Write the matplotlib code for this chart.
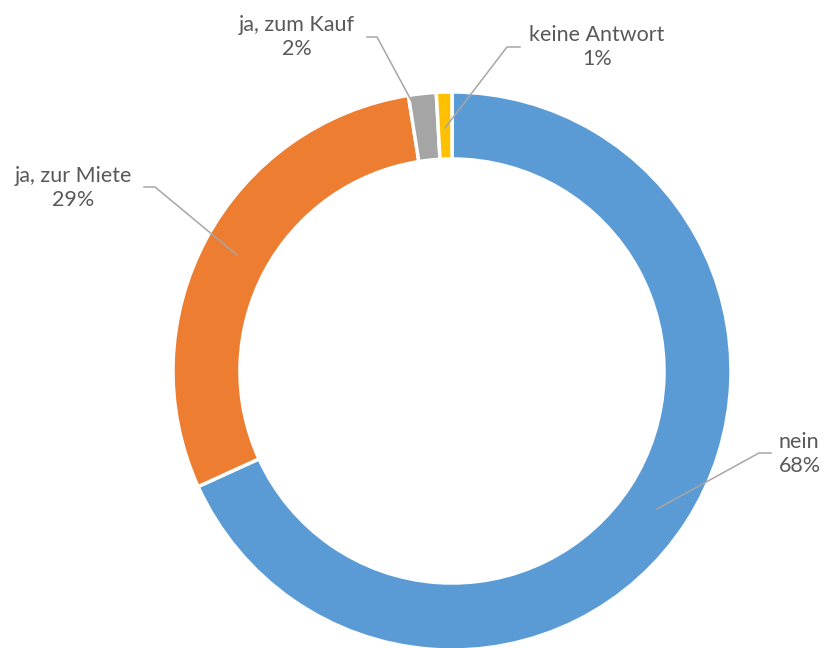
import matplotlib.pyplot as plt

labels = ["nein", "ja, zur Miete", "ja, zum Kauf", "keine Antwort"]
# shares; the labels show them rounded
values = [68.2, 29.3, 1.6, 0.9]
colors = ["#5B9BD5", "#ED7D31", "#A5A5A5", "#FFC000"]

W, H = 825, 648
fig = plt.figure(figsize=(W / 100, H / 100), dpi=100)

# pie axes first, in pixel units, y upwards
pax = fig.add_axes([0, 0, 1, 1])
cx, cy, r = 452, H - 371, 279
pax.pie(values, colors=colors, startangle=90, counterclock=False,
        center=(cx, cy), radius=r, frame=True,
        wedgeprops=dict(width=r * 0.24, edgecolor="white", linewidth=2.5))
pax.set_xlim(0, W)
pax.set_ylim(0, H)
pax.set_aspect("auto")
pax.axis("off")

# overlay axes for labels and leader lines (pixels, y downwards)
ax = fig.add_axes([0, 0, 1, 1])
ax.set_xlim(0, W)
ax.set_ylim(H, 0)
ax.axis("off")
ax.patch.set_alpha(0)

txt = "#595959"
line = "#A6A6A6"
font = "Lato"
fs = 15.5

label_pos = {
    "nein": (779, 454, "left"),
    "ja, zur Miete": (73, 188, "center"),
    "ja, zum Kauf": (297, 37, "center"),
    "keine Antwort": (597, 47, "center"),
}
leaders = {
    "nein": [(657, 509), (759, 453), (771, 453)],
    "ja, zur Miete": [(237, 255), (155, 187), (144, 187)],
    "ja, zum Kauf": [(411, 100), (377, 37), (367, 37)],
    "keine Antwort": [(445, 128), (507, 47), (520, 47)],
}

for lab, v in zip(labels, values):
    x, y, ha = label_pos[lab]
    ax.text(x, y, f"{lab}\n{round(v)}%", ha=ha, va="center", color=txt,
            fontsize=fs, family=font, linespacing=1.3)
    pts = leaders[lab]
    ax.plot([p[0] for p in pts], [p[1] for p in pts], color=line, lw=1.1)

fig.savefig("out.png", dpi=100)
